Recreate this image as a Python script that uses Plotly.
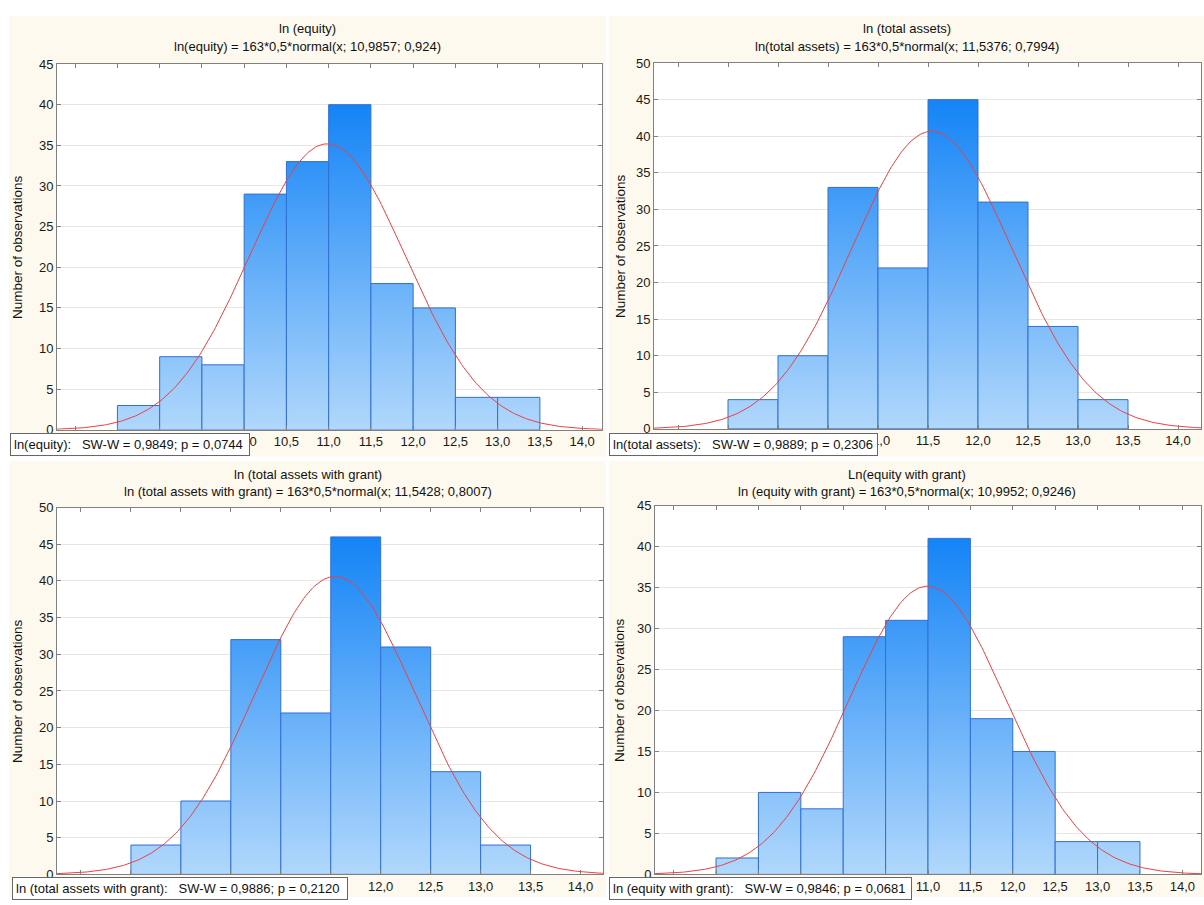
import numpy as np
import plotly.graph_objects as go

W, H = 1204, 905
FONT = "Arial, Liberation Sans, sans-serif"

# ---------------- data ----------------
titles = ["ln (equity)", "ln (total assets)", "ln (total assets with grant)", "Ln(equity with grant)"]
formulas = [
    "ln(equity) = 163*0,5*normal(x; 10,9857; 0,924)",
    "ln(total assets) = 163*0,5*normal(x; 11,5376; 0,7994)",
    "ln (total assets with grant) = 163*0,5*normal(x; 11,5428; 0,8007)",
    "ln (equity with grant) = 163*0,5*normal(x; 10,9952; 0,9246)",
]
sw_names = ["ln(equity):", "ln(total assets):", "ln (total assets with grant):", "ln (equity with grant):"]
sw_stats = [
    "SW-W = 0,9849; p = 0,0744",
    "SW-W = 0,9889; p = 0,2306",
    "SW-W = 0,9886; p = 0,2120",
    "SW-W = 0,9846; p = 0,0681",
]
bin_start = [8.5, 9.5, 9.5, 8.5]
bin_width = 0.5
counts_equity = [3, 9, 8, 29, 33, 40, 18, 15, 4, 4]
counts_assets = [4, 10, 33, 22, 45, 31, 14, 4]
counts_assets_grant = [4, 10, 32, 22, 46, 31, 14, 4]
counts_equity_grant = [2, 10, 8, 29, 31, 41, 19, 15, 4, 4]
counts = [counts_equity, counts_assets, counts_assets_grant, counts_equity_grant]
n_obs = 163
means = [10.9857, 11.5376, 11.5428, 10.9952]
sds = [0.924, 0.7994, 0.8007, 0.9246]
x_ranges = [[7.785, 14.235], [8.76, 14.23], [8.76, 14.225], [7.78, 14.22]]
y_max = [45, 50, 50, 45]
x_tick_vals = [8.0, 8.5, 9.0, 9.5, 10.0, 10.5, 11.0, 11.5, 12.0, 12.5, 13.0, 13.5, 14.0]
# tick labels left of these values sit fully under the SW-W box in the reference
first_visible_tick = [10.0, 11.0, 12.0, 11.0]
y_tick_step = 5

# ---------------- layout geometry (pixels) ----------------
plot_px = [  # x0, x1, y0(top), y1(bottom)
    (57, 602, 58, 430),
    (654, 1201, 57, 429),
    (57, 603, 509, 882),
    (655, 1201, 507, 882),
]
panel_px = [
    (9, 606, 9, 457),
    (609, 1204, 9, 457),
    (9, 606, 462, 905),
    (609, 1204, 462, 905),
]
sw_box_px = [(10, 433, 240), (609, 433, 269), (12, 885, 336), (609, 885, 303)]
ytitle_px = [18, 621, 18, 620]


def px(x):
    return x / W


def py(y):
    return 1 - y / H


fig = go.Figure()
shapes = []
annotations = []
layout_axes = {}

BAR_LIGHT = "#B4D9FC"
BAR_DARK = "#1484F6"
BAR_EDGE = "#3070D2"
NB = "&nbsp;"

for i in range(4):
    xa = "x" if i == 0 else f"x{i+1}"
    ya = "y" if i == 0 else f"y{i+1}"
    xk = "xaxis" if i == 0 else f"xaxis{i+1}"
    yk = "yaxis" if i == 0 else f"yaxis{i+1}"
    x0, x1, y0, y1 = plot_px[i]

    c = counts[i]
    top = max(c)
    for k, v in enumerate(c):
        l = bin_start[i] + k * bin_width
        r = l + bin_width
        fig.add_trace(go.Scatter(
            x=[l, l, r, r, l], y=[0, v, v, 0, 0],
            mode="lines", fill="toself",
            fillgradient=dict(type="vertical",
                              colorscale=[[0, BAR_LIGHT], [1, BAR_DARK]],
                              start=0, stop=top),
            line=dict(color=BAR_EDGE, width=1),
            xaxis=xa, yaxis=ya, showlegend=False, hoverinfo="skip"))

    xs = np.linspace(x_ranges[i][0], x_ranges[i][1], 300)
    ys = n_obs * bin_width * np.exp(-0.5 * ((xs - means[i]) / sds[i]) ** 2) / (sds[i] * np.sqrt(2 * np.pi))
    fig.add_trace(go.Scatter(x=xs, y=ys, mode="lines",
                             line=dict(color="#EE4040", width=1),
                             xaxis=xa, yaxis=ya, showlegend=False, hoverinfo="skip"))

    layout_axes[xk] = dict(
        domain=[px(x0), px(x1)], range=x_ranges[i], anchor=ya,
        tickvals=x_tick_vals,
        ticktext=[(f"{v:.1f}".replace(".", ",") if v >= first_visible_tick[i] else "")
                  for v in x_tick_vals],
        ticks="inside", ticklen=4, tickcolor="#808080",
        showline=True, linecolor="#808080", linewidth=1, mirror="ticks",
        showgrid=False, zeroline=False,
        tickfont=dict(family=FONT, size=13, color="#1A1A1A"),
    )
    layout_axes[yk] = dict(
        domain=[py(y1), py(y0)], range=[0, y_max[i]], anchor=xa,
        tickvals=list(range(0, y_max[i] + 1, y_tick_step)),
        ticks="inside", ticklen=4, tickcolor="#808080",
        showline=True, linecolor="#808080", linewidth=1, mirror="ticks",
        showgrid=True, gridcolor="#E6E6E6", gridwidth=1, zeroline=False,
        tickfont=dict(family=FONT, size=13, color="#1A1A1A"),
    )

    # panel background and white plot area
    p0, p1, q0, q1 = panel_px[i]
    shapes.append(dict(type="rect", xref="paper", yref="paper", layer="below",
                       x0=px(p0), x1=px(p1), y0=py(q1), y1=py(q0),
                       fillcolor="#FDF9EE", line=dict(width=0)))
    shapes.append(dict(type="rect", xref="paper", yref="paper", layer="below",
                       x0=px(x0), x1=px(x1), y0=py(y1), y1=py(y0),
                       fillcolor="white", line=dict(width=0)))

    cx = (p0 + p1) / 2
    annotations.append(dict(text=titles[i], xref="paper", yref="paper",
                            x=px(cx), y=py(q0 + 13), xanchor="center", yanchor="middle",
                            showarrow=False, font=dict(family=FONT, size=13, color="#111111")))
    annotations.append(dict(text=formulas[i], xref="paper", yref="paper",
                            x=px(cx), y=py(q0 + 31), xanchor="center", yanchor="middle",
                            showarrow=False, font=dict(family=FONT, size=13, color="#111111")))
    annotations.append(dict(text="Number of observations", xref="paper", yref="paper",
                            x=px(ytitle_px[i]), y=py((y0 + y1) / 2),
                            xanchor="center", yanchor="middle", textangle=-90,
                            showarrow=False, font=dict(family=FONT, size=13.5, color="#111111")))

    bx, by, bw = sw_box_px[i]
    annotations.append(dict(text=sw_names[i] + NB * 3 + sw_stats[i], xref="paper", yref="paper",
                            x=px(bx), y=py(by), xanchor="left", yanchor="top",
                            width=bw - 8, align="left",
                            showarrow=False, bgcolor="white", bordercolor="#666666",
                            borderwidth=1, borderpad=3,
                            font=dict(family=FONT, size=13, color="#111111")))

fig.update_layout(
    width=W, height=H, margin=dict(l=0, r=0, t=0, b=0),
    paper_bgcolor="white", plot_bgcolor="rgba(0,0,0,0)",
    shapes=shapes, annotations=annotations, showlegend=False,
    **layout_axes,
)

fig.write_html("out.html", config={"displayModeBar": False},
               post_script="document.body.style.margin='0';document.body.style.overflow='hidden';")
